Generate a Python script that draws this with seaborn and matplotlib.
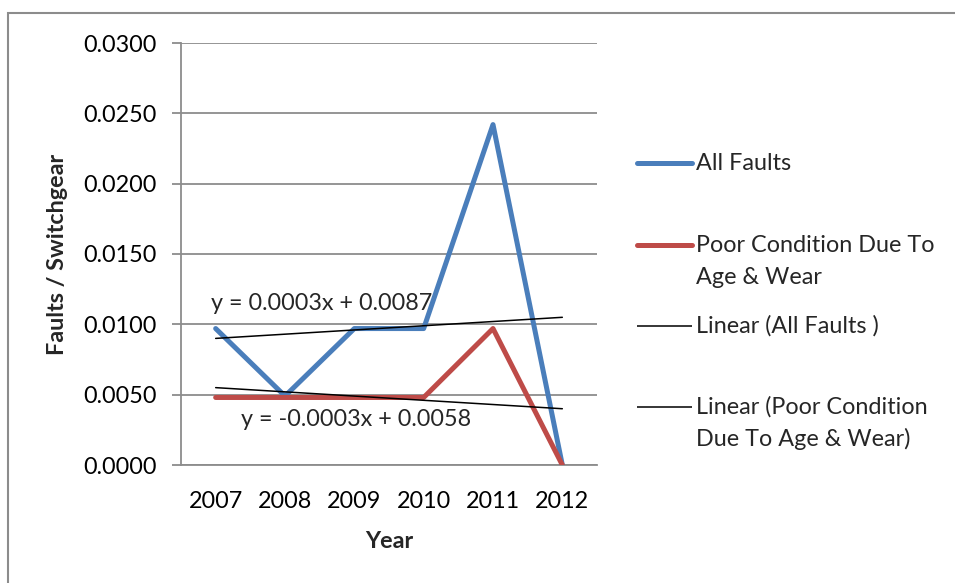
import matplotlib
matplotlib.use("Agg")
import matplotlib.pyplot as plt
from matplotlib.lines import Line2D
from matplotlib.patches import Rectangle
import numpy as np
import pandas as pd
import seaborn as sns

# Fault rates per year
years = ["2007", "2008", "2009", "2010", "2011", "2012"]
all_faults = [0.0097, 0.0049, 0.0097, 0.0097, 0.0242, 0.0]
poor_condition = [0.0048, 0.0048, 0.0048, 0.0048, 0.0097, 0.0]

series_names = ["All Faults", "Poor Condition Due To Age & Wear"]
series_colors = ["#4A7EBB", "#BE4B48"]

# Linear trendline coefficients (slope, intercept) over x = 1..6
trend_all = (0.0003, 0.0087)
trend_poor = (-0.0003, 0.0058)

y_ticks = [0.0, 0.005, 0.010, 0.015, 0.020, 0.025, 0.030]

sns.set_style("white")
plt.rcParams["font.family"] = ["Lato", "DejaVu Sans"]

FS = 16.8
W, H = 955, 583
fig = plt.figure(figsize=(W / 100, H / 100), dpi=100)
ax = fig.add_axes([181 / W, 1 - 465 / H, (597 - 181) / W, (465 - 43) / H])


def px(x, y):
    """Pixel position (from the top-left corner) to figure fraction."""
    return x / W, 1 - y / H


x_pos = np.arange(1, len(years) + 1)
df = pd.DataFrame({
    "x": np.concatenate([x_pos, x_pos]),
    "value": all_faults + poor_condition,
    "series": [series_names[0]] * len(years) + [series_names[1]] * len(years),
})

sns.lineplot(data=df, x="x", y="value", hue="series",
             palette=dict(zip(series_names, series_colors)),
             linewidth=3.6, ax=ax, legend=False, zorder=3)

# Trendlines
for slope, icpt in (trend_all, trend_poor):
    xs = np.array([x_pos[0], x_pos[-1]])
    ax.plot(xs, slope * xs + icpt, color="black", linewidth=1.1, zorder=4)

ax.set_xlim(0.5, 6.5)
ax.set_ylim(0, 0.030)
ax.set_xticks(x_pos)
ax.set_xticklabels(years)
ax.set_yticks(y_ticks)
ax.set_yticklabels([f"{v:.4f}" for v in y_ticks])

grid_c = "#8C8C8C"
ax.grid(axis="y", color=grid_c, linewidth=1.3, zorder=0)
for side in ("top", "right"):
    ax.spines[side].set_visible(False)
for side in ("left", "bottom"):
    ax.spines[side].set_color(grid_c)
    ax.spines[side].set_linewidth(1.3)

ax.tick_params(axis="y", length=6.5, width=1.3, color=grid_c, pad=11,
               labelsize=FS, labelcolor="black", left=True)
ax.tick_params(axis="x", length=0, pad=19, labelsize=FS, labelcolor="black")

ax.set_xlabel("Year", fontsize=FS, fontweight="bold")
ax.set_ylabel("Faults / Switchgear", fontsize=FS, fontweight="bold")
ax.xaxis.label.set_va("center")
ax.xaxis.set_label_coords(0.5, -(541 - 465) / (465 - 43))
ax.yaxis.label.set_va("center")
ax.yaxis.set_label_coords((57 - 181) / (597 - 181), 0.5)

# Trendline equations
fig.text(*px(211, 304), "y = 0.0003x + 0.0087", fontsize=FS,
         va="center", ha="left")
fig.text(*px(241, 420), "y = -0.0003x + 0.0058", fontsize=FS,
         va="center", ha="left")

# Legend drawn in pixel space
entries = [
    (163, series_colors[0], 3.6, ["All Faults"]),
    (245, series_colors[1], 3.6, ["Poor Condition Due To", "Age & Wear"]),
    (326, "black", 1.1, ["Linear (All Faults )"]),
    (407, "black", 1.1, ["Linear (Poor Condition", "Due To Age & Wear)"]),
]
for y, col, lw, lines in entries:
    (x0, yy), (x1, _) = px(637, y), px(692, y)
    fig.add_artist(Line2D([x0, x1], [yy, yy], color=col, linewidth=lw,
                          solid_capstyle="round" if lw > 2 else "butt"))
    for i, t in enumerate(lines):
        fig.text(*px(696, y + i * 32), t, fontsize=FS, va="center", ha="left")

# Outer chart frame
fx, fy = px(8, 13)
fig.add_artist(Rectangle((fx, -0.1), 1.2, fy + 0.1, transform=fig.transFigure,
                         fill=False, edgecolor="#8C8C8C", linewidth=1.5))

fig.savefig("out.png", dpi=100)
